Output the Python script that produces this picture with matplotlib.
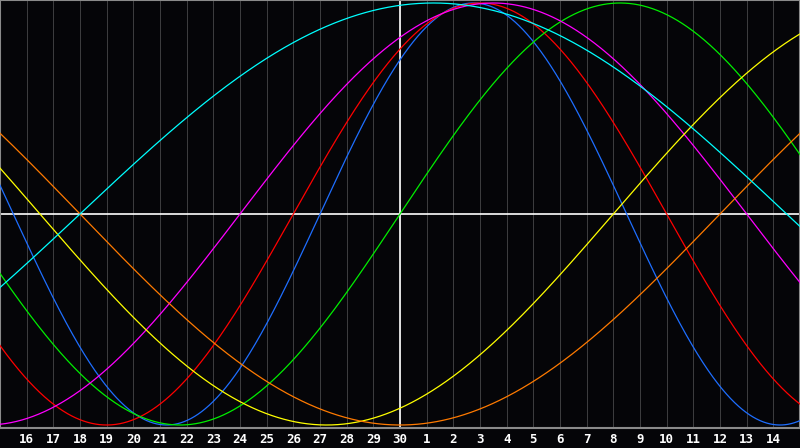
import numpy as np
import matplotlib.pyplot as plt

# biorhythm cycles: period in days and the phase (days into the cycle) on "today"
periods = [23, 28, 33, 38, 43, 48, 53]
phase_today = [3, 4, 0, 6, 35, 36, 12]
colors = ["#1e6eff", "#ff0000", "#00ee00", "#ff00ff", "#ffff00", "#ff7a00", "#00ffff"]

# day labels: 15 days either side of today (the 30th)
day_offsets = list(range(-14, 15))
day_labels = [str(d) for d in range(16, 31)] + [str(d) for d in range(1, 15)]

bg = "#050508"
fig = plt.figure(figsize=(8, 4.48), dpi=100, facecolor=bg)
ax = fig.add_axes([0, 20 / 448, 1, 428 / 448], facecolor=bg)

# day grid (1 px lines)
for d in day_offsets:
    ax.axvline(d, color="#3c3c3e", linewidth=0.72, antialiased=False, zorder=1)
ax.axhline(0, color="white", linewidth=1.2, zorder=2)
ax.axvline(0, color="white", linewidth=1.2, zorder=2)

# curves
t = np.linspace(-15, 15, 1600)
for p, ph, c in zip(periods, phase_today, colors):
    ax.plot(t, np.sin(2 * np.pi * (ph + t) / p), color=c, linewidth=0.9, zorder=3)

ax.set_xlim(-15, 15)
ax.set_ylim(-214 / 211, 214 / 211)
ax.set_xticks(day_offsets)
ax.set_xticklabels(day_labels, color="white", fontsize=9, fontweight="bold",
                   family="DejaVu Sans Mono")
ax.tick_params(axis="x", length=0, pad=3.5)
ax.set_yticks([])
for side in ["left", "top", "right", "bottom"]:
    ax.spines[side].set_color("#8a8a8a")
    ax.spines[side].set_linewidth(1.5)

fig.savefig("out.png", dpi=100, facecolor=bg)
